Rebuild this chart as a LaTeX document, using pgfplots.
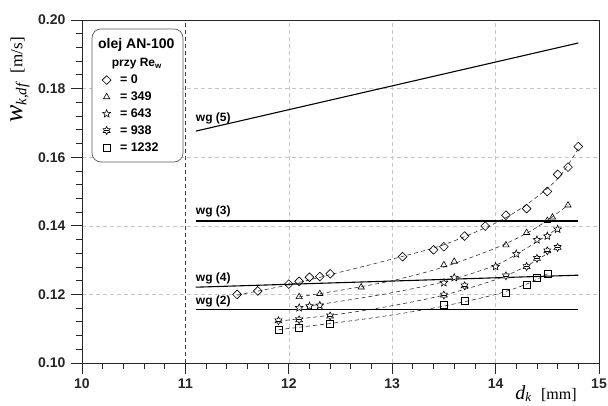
\documentclass[border=0pt]{standalone}
\usepackage{fontspec}
\setmainfont{Liberation Sans}
\newfontfamily\serif{Liberation Serif}
\usepackage{pgfplots}
\pgfplotsset{compat=1.18}
\pgfdeclareplotmark{pentagram}{%
  \pgfpathmoveto{\pgfpointpolar{90}{\pgfplotmarksize}}%
  \pgfpathlineto{\pgfpointpolar{126}{0.45\pgfplotmarksize}}%
  \pgfpathlineto{\pgfpointpolar{162}{\pgfplotmarksize}}%
  \pgfpathlineto{\pgfpointpolar{198}{0.45\pgfplotmarksize}}%
  \pgfpathlineto{\pgfpointpolar{234}{\pgfplotmarksize}}%
  \pgfpathlineto{\pgfpointpolar{270}{0.45\pgfplotmarksize}}%
  \pgfpathlineto{\pgfpointpolar{306}{\pgfplotmarksize}}%
  \pgfpathlineto{\pgfpointpolar{342}{0.45\pgfplotmarksize}}%
  \pgfpathlineto{\pgfpointpolar{18}{\pgfplotmarksize}}%
  \pgfpathlineto{\pgfpointpolar{54}{0.45\pgfplotmarksize}}%
  \pgfpathclose\pgfusepathqfillstroke}
\pgfdeclareplotmark{hexagram}{%
  \pgfpathmoveto{\pgfpointpolar{90}{\pgfplotmarksize}}%
  \pgfpathlineto{\pgfpointpolar{120}{0.55\pgfplotmarksize}}%
  \pgfpathlineto{\pgfpointpolar{150}{\pgfplotmarksize}}%
  \pgfpathlineto{\pgfpointpolar{180}{0.55\pgfplotmarksize}}%
  \pgfpathlineto{\pgfpointpolar{210}{\pgfplotmarksize}}%
  \pgfpathlineto{\pgfpointpolar{240}{0.55\pgfplotmarksize}}%
  \pgfpathlineto{\pgfpointpolar{270}{\pgfplotmarksize}}%
  \pgfpathlineto{\pgfpointpolar{300}{0.55\pgfplotmarksize}}%
  \pgfpathlineto{\pgfpointpolar{330}{\pgfplotmarksize}}%
  \pgfpathlineto{\pgfpointpolar{0}{0.55\pgfplotmarksize}}%
  \pgfpathlineto{\pgfpointpolar{30}{\pgfplotmarksize}}%
  \pgfpathlineto{\pgfpointpolar{60}{0.55\pgfplotmarksize}}%
  \pgfpathclose\pgfusepathqfillstroke
  \pgfpathmoveto{\pgfpointpolar{0}{0.55\pgfplotmarksize}}%
  \pgfpathlineto{\pgfpointpolar{180}{0.55\pgfplotmarksize}}%
  \pgfusepathqstroke}
\begin{document}
\begin{tikzpicture}
\begin{axis}[
  scale only axis, width=517pt, height=343pt,
  xmin=10, xmax=15, ymin=0.10, ymax=0.20,
  xtick={10,11,12,13,14,15},
  ytick={0.10,0.12,0.14,0.16,0.18,0.20},
  minor x tick num=4, minor y tick num=4,
  tick align=outside, tick pos=left,
  major tick length=11pt, minor tick length=6pt,
  every tick/.style={black!85, line width=0.8pt},
  axis line style={black!85, line width=0.9pt},
  grid=major,
  major grid style={gray!45, dash pattern=on 4pt off 3pt, line width=0.6pt},
  /pgf/number format/assume math mode=true,
  yticklabel style={/pgf/number format/fixed, /pgf/number format/fixed zerofill, /pgf/number format/precision=2, xshift=-2pt},
  xticklabel style={yshift=-1pt},
  ticklabel style={font=\bfseries\fontsize{14}{16}\selectfont, text=black!85},
  legend style={at={(axis cs:10.165,0.1852)}, anchor=north west, draw=none, fill=none,
    font=\bfseries\fontsize{12.5}{14}\selectfont, row sep=2.6pt,
    /tikz/every odd column/.append style={column sep=7pt}},
  legend cell align=left,
]
\addplot[black!75, dash pattern=on 4pt off 3pt, line width=0.7pt, forget plot] coordinates {(11,0.10) (11,0.20)};
% fitted curves
\addplot[black!80, dash pattern=on 4pt off 3pt, line width=0.6pt, smooth, forget plot] coordinates {
 (11.5,0.1198) (12.0,0.1228) (12.5,0.1265) (13.0,0.1303) (13.5,0.1345) (14.0,0.1408) (14.3,0.1462) (14.6,0.1537) (14.8,0.1625)};
\addplot[black!80, dash pattern=on 4pt off 3pt, line width=0.6pt, smooth, forget plot] coordinates {
 (12.1,0.1193) (12.5,0.1212) (13.0,0.1240) (13.5,0.1280) (14.0,0.1335) (14.3,0.1378) (14.5,0.1416) (14.7,0.1460)};
\addplot[black!80, dash pattern=on 4pt off 3pt, line width=0.6pt, smooth, forget plot] coordinates {
 (12.1,0.1162) (12.5,0.1180) (13.0,0.1205) (13.5,0.1237) (14.0,0.1285) (14.3,0.1335) (14.6,0.1392)};
\addplot[black!80, dash pattern=on 4pt off 3pt, line width=0.6pt, smooth, forget plot] coordinates {
 (11.9,0.1122) (12.5,0.1143) (13.0,0.1167) (13.5,0.1198) (14.0,0.1243) (14.3,0.1283) (14.6,0.1338)};
\addplot[black!80, dash pattern=on 4pt off 3pt, line width=0.6pt, smooth, forget plot] coordinates {
 (11.9,0.1097) (12.5,0.1119) (13.0,0.1140) (13.5,0.1166) (14.0,0.1200) (14.3,0.1230) (14.5,0.1260)};
% wg lines
\addplot[black, line width=1.1pt, forget plot] coordinates {(11.1,0.1676) (14.8,0.1933)};
\addplot[black, line width=1.1pt, forget plot] coordinates {(11.1,0.1414) (14.8,0.1414)};
\addplot[black, line width=1.1pt, forget plot] coordinates {(11.1,0.1221) (14.8,0.1256)};
\addplot[black, line width=1.1pt, forget plot] coordinates {(11.1,0.1157) (14.8,0.1157)};
\node[anchor=base west, font=\bfseries\fontsize{12}{14}\selectfont, inner sep=0pt] at (axis cs:11.1,0.1703) {wg (5)};
\node[anchor=base west, font=\bfseries\fontsize{12}{14}\selectfont, inner sep=0pt] at (axis cs:11.1,0.1434) {wg (3)};
\node[anchor=base west, font=\bfseries\fontsize{12}{14}\selectfont, inner sep=0pt] at (axis cs:11.1,0.1239) {wg (4)};
\node[anchor=base west, font=\bfseries\fontsize{12}{14}\selectfont, inner sep=0pt] at (axis cs:11.1,0.1172) {wg (2)};
% legend box
\filldraw[rounded corners=9pt, draw=black!65, fill=white, line width=0.7pt] (axis cs:10.097,0.1974) rectangle (axis cs:10.977,0.1586);
\node[font=\bfseries\fontsize{14}{16}\selectfont, inner sep=0pt] at (axis cs:10.525,0.1928) {olej AN-100};
\node[font=\bfseries\fontsize{12}{14}\selectfont, inner sep=0pt] at (axis cs:10.530,0.1872) {przy Re\textsubscript{w}};
% data
\addplot[only marks, mark=square, mark size=3.1pt, mark options={rotate=45, fill=white, draw=black, line width=0.6pt}] coordinates {
 (11.5,0.1200) (11.7,0.1210) (12.0,0.1230) (12.1,0.1238) (12.2,0.1250) (12.3,0.1252) (12.4,0.1260)
 (13.1,0.1310) (13.4,0.1330) (13.5,0.1339) (13.7,0.1370) (13.9,0.1399) (14.1,0.1431) (14.3,0.1450)
 (14.5,0.1500) (14.6,0.1550) (14.7,0.1571) (14.8,0.1631)};
\addlegendentry{= 0}
\addplot[only marks, mark=triangle, mark size=3.6pt, mark options={fill=white, draw=black, line width=0.6pt}] coordinates {
 (12.1,0.1193) (12.3,0.1202) (12.7,0.1221) (13.5,0.1286) (13.6,0.1296) (14.1,0.1344) (14.3,0.1380)
 (14.5,0.1415) (14.55,0.1425) (14.7,0.1460)};
\addlegendentry{= 349}
\addplot[only marks, mark=pentagram, mark size=4.0pt, mark options={fill=white, draw=black, line width=0.6pt}] coordinates {
 (12.1,0.1161) (12.2,0.1166) (12.3,0.1168) (13.5,0.1234) (13.6,0.1249) (14.0,0.1281) (14.2,0.1318)
 (14.4,0.1359) (14.5,0.1370) (14.6,0.1390)};
\addlegendentry{= 643}
\addplot[only marks, mark=hexagram, mark size=4.0pt, mark options={fill=white, draw=black, line width=0.6pt}] coordinates {
 (11.9,0.1123) (12.1,0.1126) (12.4,0.1137) (13.5,0.1198) (13.7,0.1225) (14.1,0.1254) (14.3,0.1281)
 (14.4,0.1305) (14.5,0.1327) (14.6,0.1337)};
\addlegendentry{= 938}
\addplot[only marks, mark=square, mark size=3.5pt, mark options={fill=white, draw=black, line width=0.6pt}] coordinates {
 (11.9,0.1098) (12.1,0.1104) (12.4,0.1114) (13.5,0.1169) (13.7,0.1182) (14.1,0.1205) (14.3,0.1228)
 (14.4,0.1247) (14.5,0.1259)};
\addlegendentry{= 1232}
\end{axis}
\node[rotate=90, anchor=center, inner sep=0pt] at (-62pt,283pt) {\serif\fontsize{26}{28}\selectfont\itshape w\raisebox{-0.35ex}{\fontsize{15}{17}\selectfont k,df}\hspace{0.4em}\upshape\fontsize{17}{19}\selectfont[m/s]};
\node[anchor=south, inner sep=0pt] at (464pt,-39pt) {\serif\fontsize{20}{22}\selectfont\itshape d\raisebox{-0.3ex}{\fontsize{13}{15}\selectfont k}\hspace{0.5em}\upshape\fontsize{16}{18}\selectfont[mm]};
\pgfresetboundingbox
\path[use as bounding box] (-82pt,-42pt) rectangle (526pt,363pt);
\end{tikzpicture}
\end{document}
